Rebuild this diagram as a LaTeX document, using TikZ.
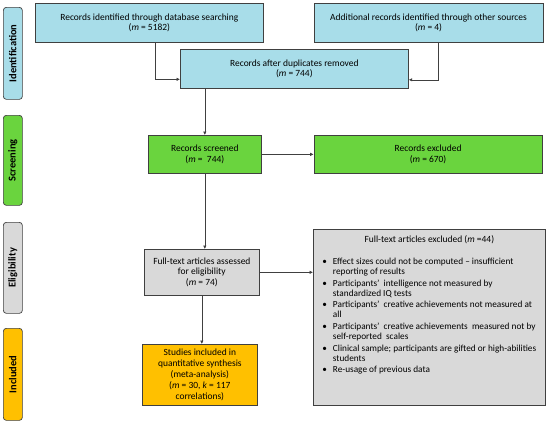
\documentclass[tikz,border=0pt]{standalone}
\usepackage{fontspec}
\setmainfont{Carlito}
\usepackage{xcolor}
\usetikzlibrary{arrows.meta,positioning}
\definecolor{idblue}{RGB}{168,221,233}
\definecolor{scrgreen}{RGB}{106,212,62}
\definecolor{elgray}{RGB}{217,217,217}
\definecolor{incorange}{RGB}{255,192,0}
\definecolor{edge}{RGB}{64,64,64}

\begin{document}
\begin{tikzpicture}[
  x=1bp, y=-1bp,
  font=\fontsize{9.5}{10.8}\selectfont,
  box/.style={draw=edge, line width=0.7bp, align=center, anchor=north west,
              inner sep=2bp},
  idbox/.style={box, fill=idblue},
  scrbox/.style={box, fill=scrgreen},
  elbox/.style={box, fill=elgray},
  incbox/.style={box, fill=incorange},
  phase/.style={draw=edge, line width=0.7bp, rounded corners=3bp, anchor=north west,
                minimum width=19bp, inner sep=0pt, font=\fontsize{10.5}{12}\selectfont\bfseries},
  arrow/.style={-{Latex[length=3.5bp,width=3.5bp]}, draw=edge, line width=0.6bp}
]
  \useasboundingbox (0,0) rectangle (550,424);

  \node[phase, fill=idblue, minimum height=92bp] (idphase) at (3,7)
    {\rotatebox{90}{Identification}};
  \node[phase, fill=scrgreen, minimum height=90bp] (scrphase) at (3,115)
    {\rotatebox{90}{Screening}};
  \node[phase, fill=elgray, minimum height=91bp] (elphase) at (3,222)
    {\rotatebox{90}{Eligibility}};
  \node[phase, fill=incorange, minimum height=92bp] (incphase) at (3,328)
    {\rotatebox{90}{Included}};

  \node[idbox, minimum width=228bp, minimum height=39bp] (dbsearch) at (35,3)
    {Records identified through database searching\\(\textit{m} = 5182)};
  \node[idbox, minimum width=229bp, minimum height=39bp, right=50bp of dbsearch.north east, anchor=north west] (othersrc)
    {Additional records identified through other sources\\(\textit{m} = 4)};
  \node[idbox, minimum width=228bp, minimum height=39bp] (dedup) at (180,49)
    {Records after duplicates removed\\(\textit{m} = 744)};

  \node[scrbox, minimum width=113bp, minimum height=38bp] (screened) at (148,135)
    {Records screened\\(\textit{m} =\ \ 744)};
  \node[scrbox, minimum width=228bp, minimum height=38bp, right=52bp of screened.north east, anchor=north west] (excluded)
    {Records excluded\\(\textit{m} = 670)};

  \node[elbox, minimum width=115bp, minimum height=46bp] (fulltext) at (144,249)
    {Full-text articles assessed\\for eligibility\\(\textit{m} = 74)};
  \node[elbox, inner sep=0pt] (ftexcl) at (313,229)
    {\parbox[c][176bp][t]{232bp}{\rule{0pt}{13bp}\centering
      Full-text articles excluded (\textit{m} =44)\par\vspace{12bp}
      \raggedright\fontsize{9.3}{10.2}\selectfont\hspace*{9bp}%
      \begin{tabular}[t]{@{}l@{\hspace{6bp}}l@{}}
        \textbullet & Effect sizes could not be computed -- insufficient\\
                    & reporting of results\\[1.3bp]
        \textbullet & Participants'\ \ intelligence not measured by\\
                    & standardized IQ tests\\[1.3bp]
        \textbullet & Participants'\ \ creative achievements not measured at\\
                    & all\\[1.3bp]
        \textbullet & Participants'\ \ creative achievements\ \ measured not by\\
                    & self-reported\ \ scales\\[1.3bp]
        \textbullet & Clinical sample; participants are gifted or high-abilities\\
                    & students\\[1.3bp]
        \textbullet & Re-usage of previous data
      \end{tabular}}};

  \node[incbox, minimum width=115bp, minimum height=61bp] (studies) at (142,344)
    {Studies included in\\quantitative synthesis\\(meta-analysis)\\(\textit{m} = 30, \textit{k} = 117\\correlations)};

  \draw[arrow] ([xshift=6bp]dbsearch.south) |- ([yshift=-10.5bp]dedup.west);
  \draw[arrow] ([xshift=9.5bp]othersrc.south) |- ([yshift=-11bp]dedup.east);
  \draw[arrow] (dedup.south -| screened.north) -- (screened.north);
  \draw[arrow] (screened) -- (excluded);
  \draw[arrow] (screened.south) -- (screened.south |- fulltext.north);
  \draw[arrow] (fulltext.east) -- (fulltext.east -| ftexcl.west);
  \draw[arrow] (fulltext.south) -- (fulltext.south |- studies.north);
\end{tikzpicture}
\end{document}
